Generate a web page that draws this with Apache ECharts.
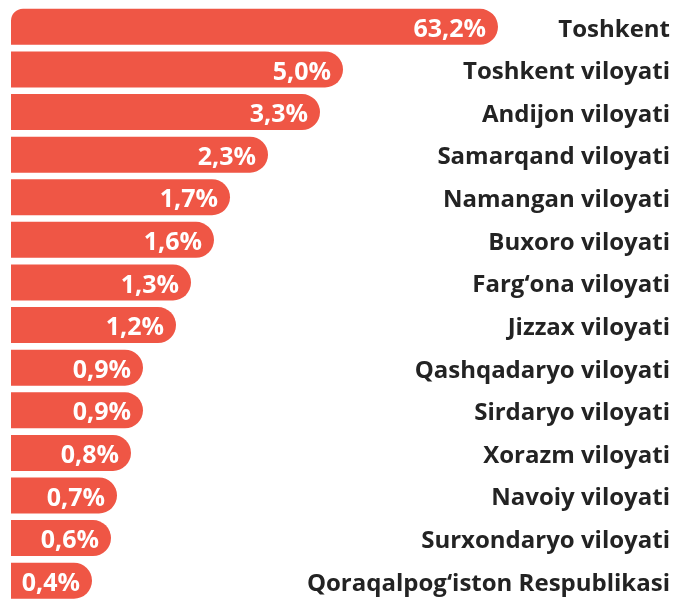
<!DOCTYPE html>
<html>
<head>
<meta charset="utf-8">
<script src="https://cdn.jsdelivr.net/npm/echarts@6/dist/echarts.min.js"></script>
<style>
  html, body { margin: 0; padding: 0; background: #fff; }
  #chart { width: 675px; height: 602px; }
</style>
</head>
<body>
<div id="chart"></div>
<script>
// regions, top to bottom
const regions = [
  "Toshkent", "Toshkent viloyati", "Andijon viloyati", "Samarqand viloyati",
  "Namangan viloyati", "Buxoro viloyati", "Farg‘ona viloyati", "Jizzax viloyati",
  "Qashqadaryo viloyati", "Sirdaryo viloyati", "Xorazm viloyati", "Navoiy viloyati",
  "Surxondaryo viloyati", "Qoraqalpog‘iston Respublikasi"
]
// share, % (label text)
const shares = [63.2, 5.0, 3.3, 2.3, 1.7, 1.6, 1.3, 1.2, 0.9, 0.9, 0.8, 0.7, 0.6, 0.4]
// bar length as drawn in the infographic (not proportional to share)
const barLength = [487, 332, 309, 257, 219, 203, 180, 165, 132, 132, 120, 106, 100, 81]

const red = "#EF5645"
const fontFam = "'Open Sans', sans-serif"

const chart = echarts.init(document.getElementById("chart"))

const option = {
  animation: false,
  grid: {
    left: 11,
    top: 5.5,
    width: 500,
    height: 604,
  },
  xAxis: {
    type: "value",
    min: 0,
    max: 500,
    show: false,
  },
  yAxis: {
    type: "category",
    data: regions,
    inverse: true,
    position: "right",
    axisLine: { show: false },
    axisTick: { show: false },
    axisLabel: {
      align: "right",
      margin: 159,
      formatter: (v) => "{t|" + v + "}",
      rich: {
        t: {
          color: "#232323",
          fontSize: 24,
          fontWeight: 700,
          fontFamily: fontFam,
          padding: [6, 0, 0, 0],
        },
      },
    },
  },
  series: [
    {
      type: "bar",
      barWidth: 36,
      data: barLength.map((v, i) => ({
        value: v,
        itemStyle: {
          borderRadius: i === 0 ? [12, 18, 18, 0] : [0, 18, 18, 0],
        },
      })),
      itemStyle: { color: red },
      label: {
        show: true,
        position: "insideRight",
        distance: 12,
        offset: [0, 3],
        color: "#fff",
        fontSize: 25,
        fontWeight: 700,
        fontFamily: fontFam,
        formatter: (p) => shares[p.dataIndex].toFixed(1).replace(".", ",") + "%",
      },
    },
  ],
}

chart.setOption(option)
window.addEventListener("resize", () => {
  chart.resize()
})
</script>
</body>
</html>
